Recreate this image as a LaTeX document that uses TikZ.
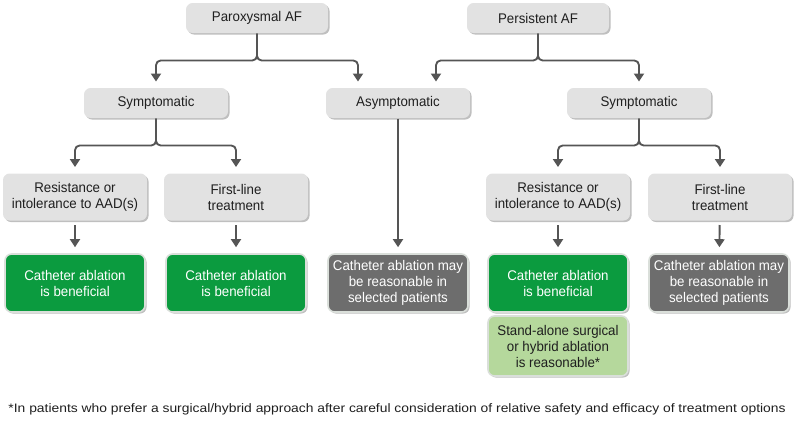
\documentclass[tikz,border=0pt]{standalone}
\usepackage{fontspec}
\setmainfont{Liberation Sans}[FakeStretch=0.95]
\newfontfamily\notefont{Liberation Sans}[FakeStretch=1.13]
\usetikzlibrary{arrows.meta,shadows,calc}

\definecolor{boxgray}{HTML}{E2E2E2}
\definecolor{darkgreen}{HTML}{0B9B3F}
\definecolor{darkgray}{HTML}{6D6D6D}
\definecolor{lightgreen}{HTML}{B5D89C}
\definecolor{linegray}{HTML}{555555}
\definecolor{rimgray}{HTML}{DADFDA}

\tikzset{every picture/.style={line width=0.75pt},
  box/.style={rounded corners=5pt, align=center, inner sep=0pt, font=\fontsize{10.5}{12}\selectfont,
    drop shadow={shadow xshift=1.2pt, shadow yshift=-1.2pt, opacity=0.25, fill=black}},
  graybox/.style={box, fill=boxgray, text=black!88},
  resultbox/.style={box, draw=rimgray, line width=1.2pt, minimum width=105pt, minimum height=43.5pt},
  yesbox/.style={resultbox, fill=darkgreen, text=white},
  maybebox/.style={resultbox, fill=darkgray, text=white},
  hybridbox/.style={resultbox, fill=lightgreen, text=black!88, minimum height=45pt},
  conn/.style={draw=linegray, line width=1.4pt, rounded corners=3.5pt,
    -{Triangle[width=7.5pt,length=6pt]}, shorten >=4.5pt}
}

\begin{document}
\begin{tikzpicture}[x=0.75pt,y=0.75pt,yscale=-1,xscale=1]
\useasboundingbox (0,0) rectangle (800,422);

% Top level
\node [graybox, minimum width=106.5pt, minimum height=22.5pt] (parox) at (257,18) {Paroxysmal AF};
\node [graybox, minimum width=106.5pt, minimum height=22.5pt] (persist) at (538,18) {Persistent AF};

% Second level
\node [graybox, minimum width=108pt, minimum height=22.5pt] (symL) at (156,103) {Symptomatic};
\node [graybox, minimum width=108pt, minimum height=22.5pt] (asym) at (398,103) {Asymptomatic};
\node [graybox, minimum width=108pt, minimum height=22.5pt] (symR) at (639,103) {Symptomatic};

% Third level
\node [graybox, minimum width=108pt, minimum height=35.25pt] (resL) at (75,197) {Resistance or\\intolerance to AAD(s)};
\node [graybox, minimum width=108pt, minimum height=35.25pt] (firstL) at (236,197) {First-line\\treatment};
\node [graybox, minimum width=108pt, minimum height=35.25pt] (resR) at (558,197) {Resistance or\\intolerance to AAD(s)};
\node [graybox, minimum width=108pt, minimum height=35.25pt] (firstR) at (720,197) {First-line\\treatment};

% Recommendations
\node [yesbox] (cathL) at (75,283) {Catheter ablation\\is beneficial};
\node [yesbox] (cathM) at (236,283) {Catheter ablation\\is beneficial};
\node [maybebox] (maybeM) at (398,283) {Catheter ablation may\\be reasonable in\\selected patients};
\node [yesbox] (cathR) at (558,283) {Catheter ablation\\is beneficial};
\node [maybebox] (maybeR) at (719,283) {Catheter ablation may\\be reasonable in\\selected patients};
\node [hybridbox] (hybrid) at (558,346) {Stand-alone surgical\\or hybrid ablation\\is reasonable*};

% Connectors
\draw [conn] (parox.south) -- ++(0,27) -| (symL.north);
\draw [conn] (parox.south) -- ++(0,27) -| ($(asym.north)+(-40,0)$);
\draw [conn] (persist.south) -- ++(0,27) -| ($(asym.north)+(38,0)$);
\draw [conn] (persist.south) -- ++(0,27) -| (symR.north);
\draw [conn] (symL.south) -- ++(0,27) -| (resL.north);
\draw [conn] (symL.south) -- ++(0,27) -| (firstL.north);
\draw [conn] (symR.south) -- ++(0,27) -| (resR.north);
\draw [conn] (symR.south) -- ++(0,27) -| (firstR.north);
\draw [conn, shorten <=3pt] (resL) -- (cathL);
\draw [conn, shorten <=3pt] (firstL) -- (cathM);
\draw [conn] (asym) -- (maybeM);
\draw [conn, shorten <=3pt] (resR) -- (cathR);
\draw [conn, shorten <=3pt] (firstR) -- (maybeR);

% Text Node
\node [anchor=west, inner sep=0pt, font=\notefont\fontsize{9.2}{11}\selectfont, text=black!88] (note) at (8,409) {*In patients who prefer a surgical/hybrid approach after careful consideration of relative safety and efficacy of treatment options};

\end{tikzpicture}
\end{document}
